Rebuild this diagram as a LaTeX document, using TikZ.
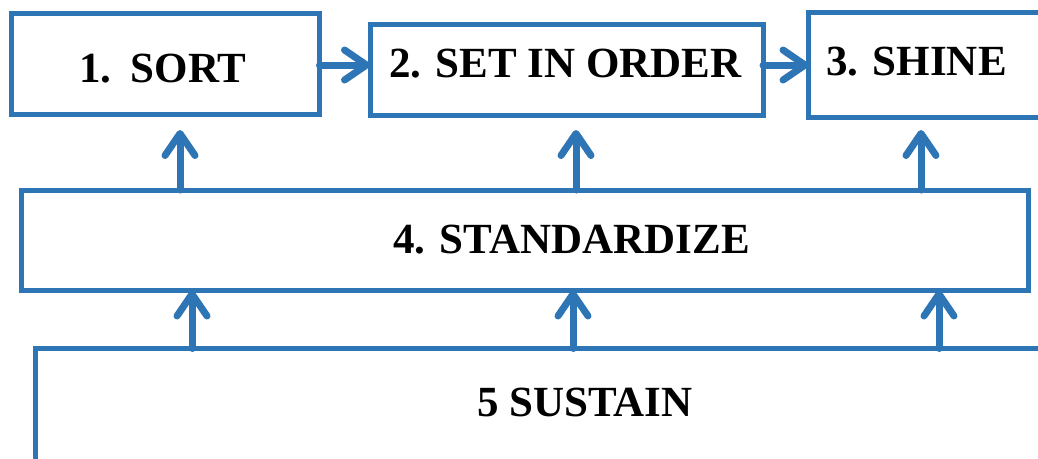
\documentclass[tikz,border=0pt]{standalone}
\usepackage{fontspec}
\setmainfont{Liberation Serif}
\usetikzlibrary{arrows.meta}
\definecolor{sblue}{RGB}{46,117,182}
\tikzset{
  box/.style={draw=sblue, line width=5pt, rectangle, outer sep=0pt, inner sep=0pt, fill=white},
  txt/.style={font=\fontsize{43}{50}\selectfont\bfseries, inner sep=0pt, anchor=base, text=black},
  arr/.style={draw=sblue, line width=7pt, line cap=round, -{Straight Barb[length=22pt,width=30pt,round]}},
}
\begin{document}
\begin{tikzpicture}[x=1pt,y=-1pt]
\useasboundingbox (0,0) rectangle (1038,458);
\clip (0,0) rectangle (1038,458);
\fill[white] (0,0) rectangle (1038,458);
% boxes
\node[box, minimum width=308pt, minimum height=101.5pt] (b1) at (165.5,63.75) {};
\node[box, minimum width=393pt, minimum height=91.5pt] (b2) at (566.5,69.75) {};
\node[box, minimum width=240pt, minimum height=105pt] (b3) at (928.5,64.5) {};
\node[box, minimum width=1006.5pt, minimum height=100.5pt] (b4) at (524.75,240.25) {};
\node[box, minimum width=1020pt, minimum height=150pt] (b5) at (545,423.5) {};
% texts
\node[txt] (t1) at (163,82) {1.\hspace{0.45em}SORT};
\node[txt] (t2) at (565.5,77) {2. SET IN ORDER};
\node[txt] (t3) at (916.5,75) {3. SHINE};
\node[txt] (t4) at (571.5,253) {4. STANDARDIZE};
\node[txt] (t5) at (585,416) {5 SUSTAIN};
% x positions for vertical connectors
\coordinate (ua) at (180,130);
\coordinate (ub) at (576,130);
\coordinate (uc) at (921,130);
\coordinate (la) at (192,0);
\coordinate (lb) at (573,0);
\coordinate (lc) at (939,0);
% horizontal arrows
\draw[arr] (b1.east |- 0,65) -- (b2.west |- 0,65);
\draw[arr] (b2.east |- 0,65) -- (b3.west |- 0,65);
% upward arrows from 4 to top row
\draw[arr] (b4.north -| ua) -- (ua);
\draw[arr] (b4.north -| ub) -- (ub);
\draw[arr] (b4.north -| uc) -- (uc);
% upward arrows from 5 to 4
\draw[arr] (b5.north -| la) -- (b4.south -| la);
\draw[arr] (b5.north -| lb) -- (b4.south -| lb);
\draw[arr] (b5.north -| lc) -- (b4.south -| lc);
\end{tikzpicture}
\end{document}
